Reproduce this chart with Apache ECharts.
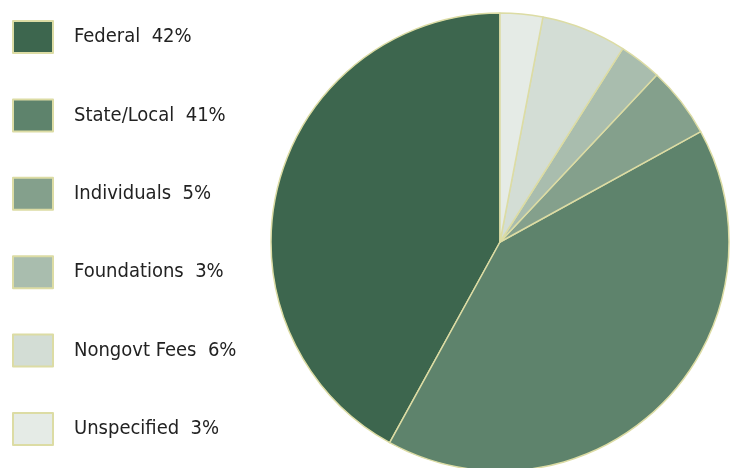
<!DOCTYPE html>
<html>
<head>
<meta charset="utf-8">
<script src="https://cdn.jsdelivr.net/npm/echarts@6/dist/echarts.min.js"></script>
<style>
html,body{margin:0;padding:0;background:#fff;}
#c{width:733px;height:468px;}
</style>
</head>
<body>
<div id="c"></div>
<script>
const categories = ["Federal", "State/Local", "Individuals", "Foundations", "Nongovt Fees", "Unspecified"];
const values = [42, 41, 5, 3, 6, 3];
const colors = ["#3d664e", "#5e836c", "#84a08c", "#a9bdae", "#d3ddd5", "#e5ebe6"];

const chart = echarts.init(document.getElementById('c'), null, {renderer: 'canvas'});
const data = categories.map((n, i) => ({name: n, value: values[i], itemStyle: {color: colors[i]}}));
chart.setOption({
  animation: false,
  backgroundColor: '#fff',
  legend: {
    orient: 'vertical',
    left: 12,
    top: 20,
    padding: 0,
    itemWidth: 40,
    itemHeight: 32,
    itemGap: 44.4,
    icon: 'rect',
    selectedMode: false,
    formatter: function (name) {
      const i = categories.indexOf(name);
      return name + '  ' + values[i] + '%';
    },
    textStyle: {
      fontFamily: 'DejaVu Sans Condensed',
      fontSize: 20,
      color: '#222222',
      padding: [0, 0, 0, 16]
    }
  },
  series: [{
    type: 'pie',
    center: [500, 242],
    radius: 229,
    startAngle: 90,
    clockwise: false,
    label: {show: false},
    labelLine: {show: false},
    emphasis: {disabled: true},
    itemStyle: {borderColor: '#dcdca4', borderWidth: 1.5},
    data: data
  }]
});
</script>
</body>
</html>
